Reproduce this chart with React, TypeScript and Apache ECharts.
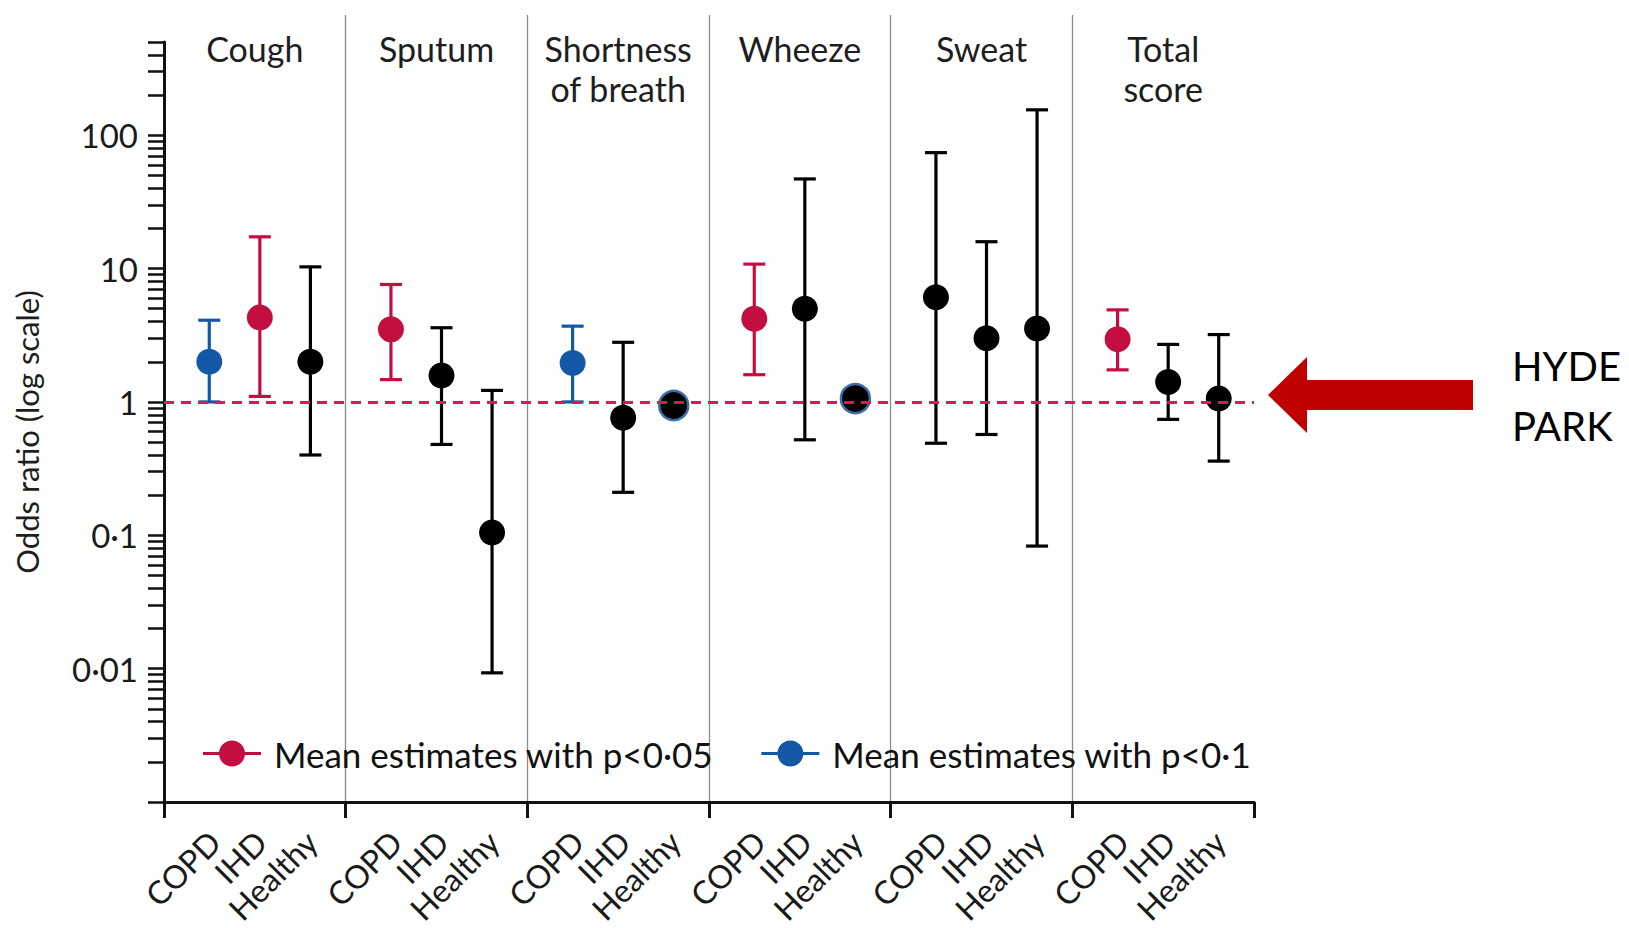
import React, { useEffect, useRef } from 'react';
import * as echarts from 'echarts';

// ---------- data ----------
const symptoms = ['Cough', 'Sputum', 'Shortness\nof breath', 'Wheeze', 'Sweat', 'Total\nscore'];
const patientGroups = ['COPD', 'IHD', 'Healthy'];

// odds ratio estimates per symptom: [COPD, IHD, Healthy]
const estimates = [
  [2.0, 4.3, 2.0],
  [3.5, 1.58, 0.105],
  [1.96, 0.76, 0.94],
  [4.2, 5.0, 1.06],
  [6.1, 3.0, 3.56],
  [2.95, 1.41, 1.06],
];
const lowerCI: (number | null)[][] = [
  [1.0, 1.1, 0.4],
  [1.47, 0.48, 0.0093],
  [1.0, 0.21, null],
  [1.6, 0.52, null],
  [0.49, 0.57, 0.083],
  [1.74, 0.74, 0.36],
];
const upperCI: (number | null)[][] = [
  [4.1, 17.3, 10.3],
  [7.6, 3.6, 1.22],
  [3.7, 2.8, null],
  [10.8, 47, null],
  [74, 15.9, 155],
  [4.9, 2.7, 3.2],
];
// 'p05' = p<0.05, 'p1' = p<0.1, 'ns' = other
const significance = [
  ['p1', 'p05', 'ns'],
  ['p05', 'ns', 'ns'],
  ['p1', 'ns', 'ns'],
  ['p05', 'ns', 'ns'],
  ['ns', 'ns', 'ns'],
  ['p05', 'ns', 'ns'],
];
const referenceOdds = 1;
const yMin = 0.001;
const yMax = 500;
const legendP05 = 'Mean estimates with p<0·05';
const legendP1 = 'Mean estimates with p<0·1';
const annotationText = 'HYDE\nPARK';

// ---------- style ----------
const RED = '#C30F40';
const BLUE = '#1358A6';
const BLACK = '#000000';
const OUTLINE = '#3D6EA6';
const DASH = '#C72355';
const ARROW = '#C00000';
const FONT = 'Lato';
const POINT_SHIFT = [15, 5, -5];
const LABEL_GRID_SHIFT = 20;
// per-subgroup label style tweaks (shift rotated labels back to the left)
const LABEL_STYLE: any[] = [
  {},
  { padding: [0, 10, 0, 0], verticalAlign: 'bottom', lineHeight: 20 },
  { padding: [0, 17, 0, 0], verticalAlign: 'bottom', lineHeight: 34 },
];
const CAP = 11;
const LEGEND_ICON =
  'path://M0,11.5 L58,11.5 L58,14.5 L0,14.5 Z M16,13 A13,13 0 1 1 42,13 A13,13 0 1 1 16,13 Z';

const categories: string[] = [];
symptoms.forEach(() => patientGroups.forEach((g) => categories.push(g)));

function seriesData(kind: string) {
  const out: any[] = [];
  symptoms.forEach((_, s) => {
    patientGroups.forEach((_, g) => {
      if (significance[s][g] === kind) {
        out.push([s * 3 + g, estimates[s][g], lowerCI[s][g], upperCI[s][g]]);
      }
    });
  });
  return out;
}

function makeRenderItem(color: string) {
  return (params: any, api: any) => {
    const xi = api.value(0);
    const est = api.value(1);
    const lo = api.value(2);
    const hi = api.value(3);
    const p = api.coord([xi, est]);
    const x = p[0] + POINT_SHIFT[xi % 3];
    const children: any[] = [];
    const hasCI = isFinite(lo) && isFinite(hi) && lo > 0 && hi > 0;
    if (hasCI) {
      const yl = api.coord([xi, lo])[1];
      const yh = api.coord([xi, hi])[1];
      const ls = { stroke: color, lineWidth: 3.2 };
      children.push({ type: 'line', shape: { x1: x, y1: yl, x2: x, y2: yh }, style: ls });
      children.push({ type: 'line', shape: { x1: x - CAP, y1: yl, x2: x + CAP, y2: yl }, style: ls });
      children.push({ type: 'line', shape: { x1: x - CAP, y1: yh, x2: x + CAP, y2: yh }, style: ls });
      children.push({ type: 'circle', shape: { cx: x, cy: p[1], r: 13 }, style: { fill: color } });
    } else {
      children.push({
        type: 'circle',
        shape: { cx: x, cy: p[1], r: 14.5 },
        style: { fill: color, stroke: OUTLINE, lineWidth: 2.5 },
      });
    }
    return { type: 'group', children };
  };
}

function customSeries(name: string, kind: string, color: string, extra: any = {}) {
  return {
    type: 'custom',
    name,
    xAxisIndex: 0,
    yAxisIndex: 0,
    renderItem: makeRenderItem(color),
    encode: { x: 0, y: 1 },
    itemStyle: { color },
    data: seriesData(kind),
    silent: true,
    z: 3,
    ...extra,
  };
}

export default function App() {
  const ref = useRef<HTMLDivElement>(null);
  useEffect(() => {
    if (!ref.current) return;
    const chart = echarts.init(ref.current, undefined, { renderer: 'svg' });
    const labelData = categories.map((c, i) => ({
      value: c,
      textStyle: LABEL_STYLE[i % 3],
    }));
    const option: any = {
      animation: false,
      backgroundColor: '#ffffff',
      textStyle: { fontFamily: FONT },
      grid: [
        { left: 164, right: 375, top: 42, bottom: 126 },
        { left: 164, right: 375, top: 15, bottom: 126 },
        { left: 164 + LABEL_GRID_SHIFT, right: 375 - LABEL_GRID_SHIFT, top: 42, bottom: 126 },
      ],
      xAxis: [
        {
          gridIndex: 0,
          type: 'category',
          data: categories,
          axisLine: { lineStyle: { color: '#111', width: 3 } },
          axisTick: { show: false },
          axisLabel: { show: false },
          splitLine: { show: false },
        },
        {
          gridIndex: 1,
          type: 'category',
          position: 'top',
          data: symptoms,
          axisLine: { show: false },
          axisTick: { show: false },
          axisLabel: {
            interval: 0,
            inside: true,
            margin: 13,
            verticalAlign: 'top',
            fontSize: 34,
            lineHeight: 40,
            fontFamily: FONT,
            color: '#1e1e1e',
          },
          splitLine: {
            show: true,
            interval: 0,
            showMinLine: false,
            showMaxLine: false,
            lineStyle: { color: '#8c8c8c', width: 1.3 },
          },
        },
        {
          gridIndex: 1,
          type: 'category',
          position: 'bottom',
          data: symptoms,
          axisLine: { show: false },
          axisTick: { show: true, interval: 0, length: 16, lineStyle: { color: '#111', width: 3 } },
          axisLabel: { show: false },
          splitLine: { show: false },
        },
        {
          gridIndex: 2,
          type: 'category',
          data: labelData,
          axisLine: { show: false },
          axisTick: { show: false },
          axisLabel: {
            interval: 0,
            rotate: 45,
            margin: 43,
            fontSize: 32,
            fontFamily: FONT,
            color: '#1a1a1a',
          },
          splitLine: { show: false },
        },
      ],
      yAxis: [
        {
          gridIndex: 0,
          type: 'log',
          logBase: 10,
          min: yMin,
          max: yMax,
          name: 'Odds ratio (log scale)',
          nameLocation: 'middle',
          nameGap: 122,
          nameTextStyle: { fontSize: 31, fontFamily: FONT, color: '#1e1e1e', padding: [0, 20, 0, 0] },
          axisLine: { show: true, lineStyle: { color: '#111', width: 3 } },
          axisTick: { show: true, length: 16, lineStyle: { color: '#111', width: 2.5 } },
          minorTick: { show: true, splitNumber: 9, length: 16, lineStyle: { color: '#111', width: 2.5 } },
          splitLine: { show: false },
          minorSplitLine: { show: false },
          axisLabel: {
            margin: 26,
            fontSize: 33,
            fontFamily: FONT,
            color: '#1a1a1a',
            formatter: (v: number) => {
              const e = Math.log10(v);
              if (Math.abs(e - Math.round(e)) > 1e-6 || v < 0.005) return '';
              return String(v).replace('.', '·');
            },
          },
        },
        { gridIndex: 1, type: 'value', show: false },
        { gridIndex: 2, type: 'value', show: false },
      ],
      legend: {
        left: 198,
        top: 731,
        orient: 'horizontal',
        itemWidth: 58,
        itemHeight: 26,
        itemGap: 48,
        selectedMode: false,
        data: [
          { name: legendP05, icon: LEGEND_ICON },
          { name: legendP1, icon: LEGEND_ICON },
        ],
        textStyle: { fontFamily: FONT, fontSize: 35, color: '#111', padding: [0, 0, 0, 8] },
      },
      series: [
        customSeries('Other estimates', 'ns', BLACK, {
          markLine: {
            silent: true,
            symbol: ['none', 'none'],
            label: { show: false },
            lineStyle: { color: DASH, width: 3, type: [10, 7] },
            data: [{ yAxis: referenceOdds }],
            z: 10,
          },
        }),
        customSeries(legendP05, 'p05', RED),
        customSeries(legendP1, 'p1', BLUE),
      ],
      graphic: [
        {
          type: 'polygon',
          shape: {
            points: [
              [1268, 395],
              [1307, 357],
              [1307, 380],
              [1473, 380],
              [1473, 410],
              [1307, 410],
              [1307, 433],
            ],
          },
          style: { fill: ARROW },
        },
        {
          type: 'text',
          left: 1512,
          top: 336,
          style: { text: annotationText, fontSize: 40, fontFamily: FONT, lineHeight: 60, fill: '#000' },
        },
      ],
    };
    chart.setOption(option);
    return () => chart.dispose();
  }, []);
  return (
    <div
      ref={ref}
      style={{ position: 'fixed', left: 0, top: 0, width: '1629px', height: '928px', background: '#fff' }}
    />
  );
}
